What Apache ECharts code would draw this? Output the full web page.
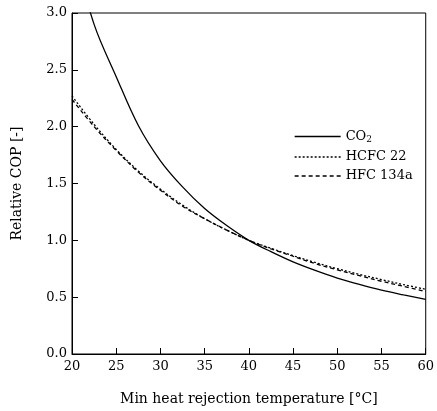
<!DOCTYPE html>
<html>
<head>
<meta charset="utf-8">
<script src="https://cdn.jsdelivr.net/npm/echarts@6/dist/echarts.min.js"></script>
<style>
  html, body { margin: 0; padding: 0; background: #fff; }
  #chart { width: 437px; height: 411px; }
</style>
</head>
<body>
<div id="chart"></div>
<script>
// Heat rejection temperature [°C]
const temps = [20, 22.5, 25, 27.5, 30, 32.5, 35, 37.5, 40, 42.5, 45, 47.5, 50, 52.5, 55, 57.5, 60];
// Relative COP (normalised to 1.0 at 40 °C)
const co2    = [3.60, 2.90, 2.44, 2.01, 1.70, 1.47, 1.28, 1.13, 1.00, 0.90, 0.81, 0.735, 0.668, 0.612, 0.562, 0.52, 0.48];
const hcfc22 = [2.27, 2.02, 1.80, 1.61, 1.45, 1.31, 1.19, 1.09, 1.00, 0.93, 0.865, 0.805, 0.75, 0.70, 0.655, 0.61, 0.57];
const hfc134a= [2.24, 2.00, 1.79, 1.60, 1.44, 1.30, 1.19, 1.09, 1.00, 0.925, 0.86, 0.795, 0.74, 0.69, 0.64, 0.595, 0.55];
const seriesNames = ['CO2', 'HCFC 22', 'HFC 134a'];
const xTicks = [20, 25, 30, 35, 40, 45, 50, 55, 60];
const yTicks = [0.0, 0.5, 1.0, 1.5, 2.0, 2.5, 3.0];

const font = 'DejaVu Serif';
const pair = arr => temps.map((t, i) => [t, arr[i]]);

function lineSeries(name, values, dash) {
  return {
    name: name, type: 'line', data: pair(values),
    smooth: 0.35, symbol: 'none', showSymbol: false, clip: true,
    lineStyle: { color: '#000', width: 1.3, type: dash },
    itemStyle: { color: '#000' }
  };
}

const chart = echarts.init(document.getElementById('chart'), null, { renderer: 'canvas' });
chart.setOption({
  animation: false,
  backgroundColor: '#fff',
  grid: {
    left: 72, right: 9, top: 13, bottom: 54,
    show: true, borderColor: '#000', borderWidth: 1
  },
  legend: {
    left: 289, top: 125,
    orient: 'vertical',
    itemWidth: 46, itemHeight: 12, itemGap: 6,
    data: seriesNames,
    itemStyle: { color: 'rgba(0,0,0,0)', borderColor: 'rgba(0,0,0,0)', borderWidth: 0 },
    lineStyle: { color: '#000', width: 1.3 },
    textStyle: {
      fontFamily: font, fontSize: 13, color: '#000',
      rich: {
        n: { fontFamily: font, fontSize: 13, color: '#000' },
        s: { fontFamily: font, fontSize: 9, color: '#000', padding: [7, 0, 0, 0] }
      }
    },
    formatter: name => name === 'CO2' ? '{n|CO}{s|2}' : '{n|' + name + '}'
  },
  xAxis: {
    type: 'value', min: 20, max: 60, interval: 5,
    name: 'Min heat rejection temperature [°C]',
    nameLocation: 'middle', nameGap: 38,
    nameTextStyle: { fontFamily: font, fontSize: 14, color: '#000' },
    axisLine: { lineStyle: { color: '#000', width: 1 } },
    axisTick: { inside: true, length: 6, lineStyle: { color: '#000' } },
    axisLabel: {
      fontFamily: font, fontSize: 13, color: '#000', margin: 6,
      formatter: v => xTicks.includes(v) ? String(v) : ''
    },
    splitLine: { show: false }
  },
  yAxis: {
    type: 'value', min: 0, max: 3, interval: 0.5,
    name: 'Relative COP [-]',
    nameLocation: 'middle', nameGap: 48, nameRotate: 90,
    nameTextStyle: { fontFamily: font, fontSize: 14, color: '#000' },
    axisLine: { lineStyle: { color: '#000', width: 1 } },
    axisTick: { inside: true, length: 6, lineStyle: { color: '#000' } },
    axisLabel: {
      fontFamily: font, fontSize: 13, color: '#000', margin: 5,
      formatter: v => yTicks.includes(v) ? v.toFixed(1) : ''
    },
    splitLine: { show: false }
  },
  series: [
    lineSeries(seriesNames[0], co2, 'solid'),
    lineSeries(seriesNames[1], hcfc22, [2, 2]),
    lineSeries(seriesNames[2], hfc134a, [4, 3])
  ]
});
</script>
</body>
</html>
